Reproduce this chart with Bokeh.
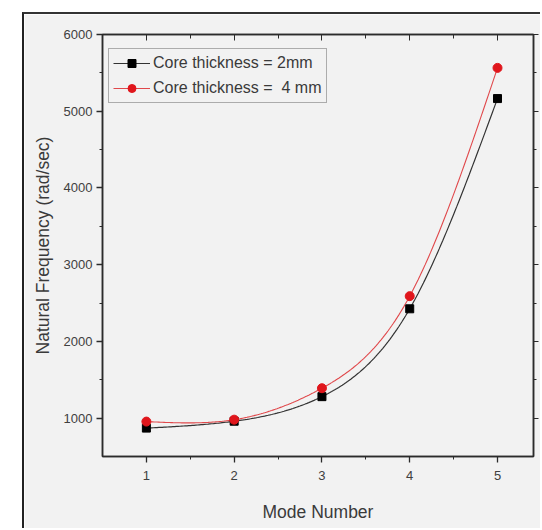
import numpy as np
from bokeh.plotting import figure
from bokeh.models import (LinearAxis, FixedTicker, Range1d, Legend, LegendItem,
                          ColumnDataSource)
from bokeh.embed import file_html
from bokeh.resources import INLINE

# Natural frequencies (rad/sec) for the first five modes
modes = [1, 2, 3, 4, 5]
freq_2mm = [870, 960, 1280, 2425, 5165]
freq_4mm = [955, 980, 1390, 2590, 5565]
labels = ["Core thickness = 2mm", "Core thickness =  4 mm"]
x_ticks = [1, 2, 3, 4, 5]
y_ticks = [1000, 2000, 3000, 4000, 5000, 6000]


def natural_spline(x, y, xs):
    """Natural cubic spline through (x, y), evaluated at xs."""
    x = np.asarray(x, float)
    y = np.asarray(y, float)
    n = len(x)
    h = np.diff(x)
    A = np.zeros((n, n))
    b = np.zeros(n)
    A[0, 0] = A[-1, -1] = 1.0
    for i in range(1, n - 1):
        A[i, i - 1] = h[i - 1]
        A[i, i] = 2 * (h[i - 1] + h[i])
        A[i, i + 1] = h[i]
        b[i] = 3 * ((y[i + 1] - y[i]) / h[i] - (y[i] - y[i - 1]) / h[i - 1])
    c = np.linalg.solve(A, b)
    bb = (y[1:] - y[:-1]) / h - h * (2 * c[:-1] + c[1:]) / 3
    d = (c[1:] - c[:-1]) / (3 * h)
    idx = np.clip(np.searchsorted(x, xs) - 1, 0, n - 2)
    dx = xs - x[idx]
    return y[idx] + bb[idx] * dx + c[idx] * dx ** 2 + d[idx] * dx ** 3


xs = np.linspace(modes[0], modes[-1], 200)
src_2 = ColumnDataSource(dict(x=xs, y=natural_spline(modes, freq_2mm, xs)))
src_4 = ColumnDataSource(dict(x=xs, y=natural_spline(modes, freq_4mm, xs)))

PANEL = "#f2f2f2"
AXIS = "#2b2b2b"
TXT = "#3a3a3a"
FONT = "Liberation Sans"

p = figure(width=518, height=516, output_backend="svg", toolbar_location=None,
           x_range=Range1d(0.5, 5.41), y_range=Range1d(500, 6000),
           background_fill_color=PANEL, border_fill_color=PANEL,
           min_border_left=78, min_border_right=9, min_border_top=20,
           min_border_bottom=74, x_axis_type=None, y_axis_type=None,
           margin=(12, 0, 0, 22),
           styles={"border-left": "2px solid #222", "border-top": "2px solid #333"})
p.grid.visible = False
p.outline_line_color = AXIS
p.outline_line_width = 1.5

# Bottom axis
xa = LinearAxis(ticker=FixedTicker(ticks=x_ticks, minor_ticks=[1.5, 2.5, 3.5, 4.5]),
                axis_label="Mode Number")
# Left axis
ya = LinearAxis(ticker=FixedTicker(ticks=y_ticks,
                                   minor_ticks=[1500, 2500, 3500, 4500, 5500]),
                axis_label="Natural Frequency (rad/sec)")
for ax in (xa, ya):
    ax.axis_line_color = AXIS
    ax.axis_line_width = 1.5
    ax.major_tick_line_color = AXIS
    ax.minor_tick_line_color = AXIS
    ax.major_tick_line_width = 1.3
    ax.major_tick_out = 6
    ax.major_tick_in = 0
    ax.minor_tick_out = 3
    ax.minor_tick_in = 0
    ax.major_label_text_font = FONT
    ax.major_label_text_font_size = "13px"
    ax.major_label_text_color = "#404040"
    ax.axis_label_text_color = TXT
    ax.axis_label_text_font = FONT
    ax.axis_label_text_font_style = "normal"
xa.axis_label_text_font_size = "17.5px"
xa.major_label_standoff = 8
xa.axis_label_standoff = 19
ya.axis_label_text_font_size = "17.5px"
ya.major_label_standoff = 4
ya.axis_label_standoff = 8
p.add_layout(xa, "below")
p.add_layout(ya, "left")

# Mirror axes on top and right (ticks only, labels not painted)
ta = LinearAxis(ticker=FixedTicker(ticks=[1, 2, 3, 4, 5],
                                   minor_ticks=[1.5, 2.5, 3.5, 4.5]))
ra = LinearAxis(ticker=FixedTicker(ticks=y_ticks,
                                   minor_ticks=[1500, 2500, 3500, 4500, 5500]))
for ax in (ta, ra):
    ax.axis_line_color = AXIS
    ax.axis_line_width = 1.5
    ax.major_tick_line_color = AXIS
    ax.minor_tick_line_color = AXIS
    ax.major_label_text_font_size = "0px"
    ax.major_label_text_color = None
    ax.major_label_standoff = 0
    ax.axis_label_standoff = 0
ta.major_tick_in = 6
ta.major_tick_out = 0
ta.minor_tick_in = 4
ta.minor_tick_out = 0
ra.major_tick_in = 0
ra.major_tick_out = 5
ra.minor_tick_in = 0
ra.minor_tick_out = 3
p.add_layout(ta, "above")
p.add_layout(ra, "right")

# Smooth curves and data markers
l2 = p.line("x", "y", source=src_2, line_color="#333333", line_width=1.2)
l4 = p.line("x", "y", source=src_4, line_color="#e0484b", line_width=1.1)
m2 = p.scatter(modes, freq_2mm, marker="square", size=8, fill_color="black",
               line_color="black")
m4 = p.scatter(modes, freq_4mm, marker="circle", size=9, fill_color="#e0161c",
               line_color="#e0161c")

legend = Legend(items=[LegendItem(label=labels[0], renderers=[l2, m2]),
                       LegendItem(label=labels[1], renderers=[l4, m4])],
                location=(6, 353), glyph_width=37, glyph_height=20,
                label_height=20, label_standoff=3, spacing=5, padding=4,
                margin=0, border_line_color="#666666", border_line_width=1,
                background_fill_color=PANEL, background_fill_alpha=1,
                label_text_font=FONT, label_text_font_size="16px",
                label_text_color=TXT)
p.add_layout(legend, "center")

open("out.html", "w").write(file_html(p, INLINE))
